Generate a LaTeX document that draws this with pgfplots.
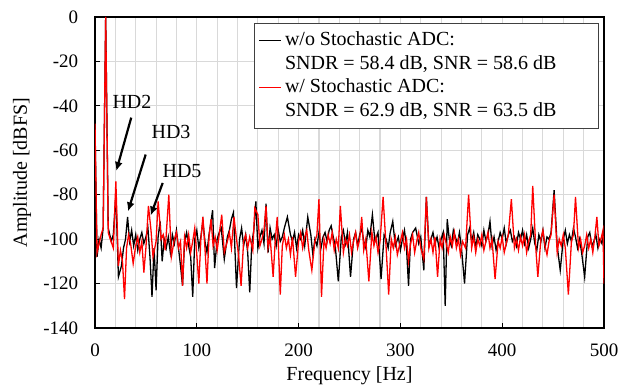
\documentclass[border=0pt]{standalone}
\usepackage{fontspec}
\setmainfont{Liberation Serif}
\usepackage{pgfplots}
\pgfplotsset{compat=1.18}
\usetikzlibrary{arrows.meta}
\begin{document}
\fontsize{20}{24}\selectfont
\begin{tikzpicture}[font=\fontsize{20}{24}\selectfont]
\begin{axis}[
  scale only axis, width=509pt, height=311pt,
  xmin=0, xmax=500, ymin=-140, ymax=0,
  xtick={0,100,...,500}, minor x tick num=4,
  ytick={-140,-120,-100,-80,-60,-40,-20,0},
  yticklabels={-140,-120,-100,-80,-60,-40,-20,0},
  /pgf/number format/assume math mode=true,
  tick label style={font=\fontsize{19}{22}\selectfont},
  xticklabel style={yshift=-9pt},
  yticklabel style={xshift=-10pt},
  label style={font=\fontsize{20}{24}\selectfont},
  grid=both,
  major grid style={draw=black!15, line width=1.1pt},
  minor grid style={draw=black!15, line width=1.1pt},
  tick pos=left, tick align=inside,
  major tick length=5pt, minor tick length=0pt,
  tick style={black, line width=1pt},
  axis line style={black, line width=1.2pt},
  xlabel={Frequency [Hz]}, ylabel={Amplitude [dBFS]},
  xlabel style={at={(axis description cs:0.5,-0.155)}, anchor=center},
  ylabel style={at={(axis description cs:-0.1434,0.5)}, anchor=center},
  legend cell align=left,
  legend style={at={(rel axis cs:0.9902,0.981)}, anchor=north east,
    draw=black!75, line width=1pt, fill=white,
    font=\fontsize{20}{24}\selectfont,
    nodes={inner xsep=3pt, inner ysep=2.8pt, text height=14pt, text depth=4pt},
    inner xsep=4pt, inner ysep=5.3pt},
  legend image code/.code={\draw[#1, line width=1.3pt] (0pt,0pt) -- (22pt,0pt);},
]
\coordinate (sw) at (rel axis cs:0,0);
\coordinate (ne) at (rel axis cs:1,1);
\addplot[black, line width=1.3pt] coordinates {
(0,-50)(2,-108)(4,-100)(6,-104)(8,-95)(10.5,0)(13,-95)(14,-97)(16,-101)(18,-98)(20.5,-80)
(23,-117)(26,-112)(28,-104)(30,-100)(32,-90)(34,-101)(36,-96)(38,-103)(40,-98)(42,-105)
(44,-100)(46,-97)(48,-102)(50,-99)(52,-95)(54,-108)(56,-126)(58,-104)(60,-123)(62,-99)
(64,-92)(66,-110)(68,-100)(70,-104)(72,-99)(74,-106)(76,-98)(78,-102)(80,-96)(82,-104)
(84,-112)(86,-121)(88,-101)(90,-97)(92,-103)(94,-108)(96,-126)(98,-100)(100,-96)(102,-104)
(104,-99)(106,-92)(108,-101)(110,-106)(112,-98)(114,-92)(115.5,-87)(117.5,-113)(120,-100)
(122,-97)(124,-95)(127,-109)(130,-99)(132,-96)(134,-91)(136,-88)(139,-122)(142,-100)
(144,-95)(146,-103)(148,-98)(150,-106)(152,-124)(154,-102)(156,-96)(158,-83)(160,-104)
(162,-99)(164,-96)(166,-102)(168,-84)(170,-106)(172,-95)(174,-100)(176,-98)(178,-103)
(180,-96)(182,-101)(184,-99)(186,-95)(189,-90)(192,-98)(194,-101)(196,-97)(198,-104)
(200,-98)(202,-100)(204,-96)(206,-103)(209,-90)(212,-98)(214,-107)(216,-100)(218,-103)
(220,-97)(222,-104)(224,-99)(226,-97)(228,-101)(230,-96)(232,-94)(234,-99)(236,-103)
(239,-119)(242,-99)(244,-96)(246,-102)(248,-97)(251,-117)(254,-100)(256,-97)(258,-103)
(260,-98)(262,-95)(264,-101)(266,-104)(268,-96)(270,-99)(272.5,-89)(275,-101)(278,-97)
(281,-118)(284,-98)(286,-100)(288,-104)(290,-97)(292.5,-92)(295,-103)(298,-99)(300,-105)
(302,-100)(304,-96)(306,-104)(308,-121)(310,-100)(312,-97)(315,-95)(318,-102)(320,-99)
(323,-114)(325.5,-81)(328,-103)(330,-100)(332,-97)(334,-102)(336,-99)(338,-104)(340,-100)
(342,-97)(344,-130)(346,-91)(348,-100)(350,-103)(352,-96)(354,-99)(356,-102)(358,-97)
(360,-104)(363,-120)(366,-98)(368,-95)(370,-101)(372,-97)(374,-104)(376,-98)(378,-100)
(380,-103)(382,-96)(384,-101)(386,-98)(388,-92)(390,-103)(392,-99)(394,-105)(396,-101)
(398,-97)(400,-100)(402,-95)(404,-102)(406,-98)(408,-96)(410,-101)(412,-99)(414,-103)
(416,-97)(418,-100)(420,-96)(422,-102)(424,-98)(426,-104)(428,-100)(430,-95)(432,-102)
(434,-105)(436,-98)(438,-101)(440,-96)(442,-104)(444,-99)(446,-100)(448,-97)(451,-78)
(454,-103)(457,-114)(460,-100)(462,-96)(464,-102)(466,-98)(468,-101)(470,-95)(472,-99)
(474,-104)(476,-100)(478,-106)(481,-117)(484,-99)(486,-97)(488,-103)(490,-101)(492,-98)
(494,-104)(496,-100)(498,-102)(500,-95)
};
\addlegendentry{w/o Stochastic ADC:}
\addlegendimage{empty legend}
\addlegendentry{SNDR = 58.4 dB, SNR = 58.6 dB\hspace*{35pt}\mbox{}}
\addplot[red, line width=1.3pt] coordinates {
(0,-48)(2,-106)(4,-102)(6,-98)(8,-95)(10.5,0)(13,-97)(15,-100)(18,-104)(20.5,-74)
(23,-112)(25,-105)(27,-110)(29,-127)(31,-104)(33,-98)(35,-102)(37.5,-111)(40,-103)(42,-99)
(44,-106)(46,-101)(48,-115)(50,-104)(52.5,-85)(55,-96)(57,-108)(60,-101)(62,-83)(65,-100)
(67,-98)(69,-105)(72.5,-80)(75,-108)(78,-100)(80,-97)(82,-104)(84,-101)(86,-121)(88,-99)
(90,-104)(92,-98)(94,-106)(96,-101)(98,-95)(100,-107)(102,-120)(104,-100)(106,-90)(108,-104)
(110,-120)(112,-99)(114,-91)(116,-103)(118,-99)(120,-105)(122,-98)(124.5,-89)(127,-106)
(130,-101)(132,-97)(134,-104)(136.5,-90)(139,-100)(141,-107)(143.5,-121)(146,-101)(148,-98)
(150,-104)(152,-99)(155,-105)(157,-86)(160,-89)(162,-103)(164,-100)(166,-96)(168,-85)
(170,-104)(172,-99)(175,-117)(177,-101)(179,-90)(182,-125)(184,-103)(186,-98)(188,-104)
(190,-100)(192,-107)(194,-99)(197,-117)(200,-101)(202,-97)(204,-104)(206,-99)(208,-96)
(210,-105)(213,-114)(216,-101)(218,-98)(220,-82)(222.5,-126)(225,-100)(227,-104)(229,-98)
(231,-102)(233,-97)(235,-105)(237,-100)(239,-104)(241,-85)(244,-106)(246,-100)(248,-103)
(250,-98)(252,-106)(254,-101)(256,-97)(258,-104)(260,-100)(262,-90)(264,-105)(266,-100)
(269,-119)(272,-97)(274,-103)(276,-99)(278,-106)(280,-101)(283,-81)(286,-104)(288.5,-125)
(291,-100)(293,-104)(295,-99)(297,-107)(300,-101)(302,-97)(304,-104)(306,-100)(308,-110)
(310,-102)(312,-98)(314,-106)(316,-101)(318,-97)(320,-104)(323,-109)(325.5,-81)(328,-104)
(330,-100)(332,-106)(334,-99)(336.5,-117)(339,-100)(341,-104)(343,-98)(345,-102)(347,-106)
(349,-99)(351,-103)(353,-97)(355,-104)(357,-100)(359,-107)(361,-101)(364,-104)(367,-80)
(370,-104)(372,-99)(374,-106)(376,-100)(378,-103)(380,-98)(382,-105)(384,-101)(386,-97)
(388,-104)(390,-100)(393,-118)(396,-101)(398,-104)(400,-99)(402,-106)(404,-102)(406,-98)
(409,-82)(412,-104)(414,-100)(416,-105)(418,-99)(420,-103)(422,-98)(424,-106)(426,-101)
(428,-98)(430,-76)(433,-104)(435,-117)(438,-100)(440,-96)(442,-103)(444,-107)(446,-101)
(448,-98)(451,-80)(454,-106)(456,-100)(458,-103)(460,-98)(462,-104)(465,-125)(468,-101)
(470,-98)(472,-81)(475,-104)(477,-100)(479,-106)(481,-103)(483,-98)(485,-104)(487,-100)
(489,-106)(491,-99)(493,-90)(495,-103)(497,-100)(499,-96)(500,-120)
};
\addlegendentry{w/ Stochastic ADC:}
\addlegendimage{empty legend}
\addlegendentry{SNDR = 62.9 dB, SNR = 63.5 dB\hspace*{35pt}\mbox{}}
\node[font=\fontsize{20}{24}\selectfont] at (axis cs:36.3,-38.4) {HD2};
\node[font=\fontsize{20}{24}\selectfont] at (axis cs:74.7,-51.7) {HD3};
\node[font=\fontsize{20}{24}\selectfont] at (axis cs:85.5,-69.3) {HD5};
\draw[black, line width=2.2pt, -{Latex[length=9pt,width=8pt]}] (axis cs:35.6,-45.3) -- (axis cs:20.9,-69.3);
\draw[black, line width=2.2pt, -{Latex[length=9pt,width=8pt]}] (axis cs:49.8,-61.9) -- (axis cs:32.4,-87.5);
\draw[black, line width=2.2pt, -{Latex[length=9pt,width=8pt]}] (axis cs:66.5,-74.7) -- (axis cs:54.6,-89.4);
\end{axis}
\pgfresetboundingbox
\path[use as bounding box] ([xshift=-95pt,yshift=-58pt]sw) rectangle ([xshift=26pt,yshift=17pt]ne);
\end{tikzpicture}
\end{document}
